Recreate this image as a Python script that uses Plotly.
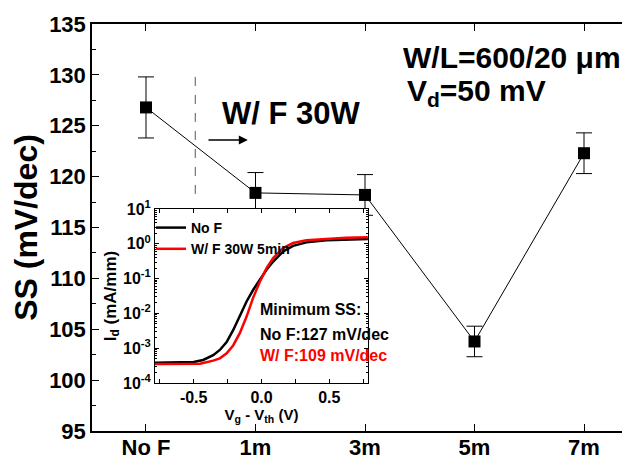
import plotly.graph_objects as go

# ---- main data ----
categories = ["No F", "1m", "3m", "5m", "7m"]
ss_values = [126.8, 118.4, 118.2, 103.8, 122.3]
ss_errors = [3.0, 2.0, 2.0, 1.5, 2.0]

# ---- inset data (Id-Vg) ----
vg_nof = [-0.785, -0.50, -0.43, -0.356, -0.307, -0.257, -0.209, -0.16, -0.11, -0.062,
          -0.012, 0.037, 0.086, 0.159, 0.233, 0.331, 0.478, 0.625, 0.784]
id_nof = [3.8e-4, 4.0e-4, 4.6e-4, 6.3e-4, 8.9e-4, 1.5e-3, 3.3e-3, 8.1e-3, 2.2e-2, 4.7e-2,
          9.1e-2, 0.18, 0.31, 0.60, 0.87, 1.10, 1.26, 1.32, 1.38]
vg_wf = [-0.785, -0.453, -0.356, -0.307, -0.257, -0.209, -0.16, -0.11, -0.062,
         -0.012, 0.037, 0.086, 0.159, 0.233, 0.331, 0.478, 0.625, 0.784]
id_wf = [3.5e-4, 3.6e-4, 4.4e-4, 5.1e-4, 7.1e-4, 1.2e-3, 2.7e-3, 8.1e-3, 2.8e-2,
         8.1e-2, 0.20, 0.39, 0.76, 1.05, 1.26, 1.38, 1.48, 1.55]

inset_xtickvals = [-0.75, -0.5, -0.25, 0, 0.25, 0.5, 0.75]
inset_xticktext = ["", "-0.5", "", "0.0", "", "0.5", ""]
inset_ytickvals = [1e-4, 1e-3, 1e-2, 1e-1, 1, 10]
inset_yticktext = ["10<sup>-4</sup>", "10<sup>-3</sup>", "10<sup>-2</sup>",
                   "10<sup>-1</sup>", "10<sup>0</sup>", "10<sup>1</sup>"]

FONT = "Liberation Sans"
OFF = 8  # page body margin
W, H = 630 - OFF, 459 - OFF
L, R, T, B = 92 - OFF, 0, 24 - OFF, 459 - 431
PW, PH = W - L - R, H - T - B


def px(xp):
    """reference page pixel x -> paper x"""
    return (xp - OFF - L) / PW


def py(yp):
    """reference page pixel y -> paper y"""
    return (H - B - (yp - OFF)) / PH


fig = go.Figure()

fig.add_trace(go.Scatter(
    x=list(range(len(categories))), y=ss_values,
    mode="lines+markers",
    line=dict(color="black", width=1),
    marker=dict(symbol="square", size=12, color="black"),
    error_y=dict(type="data", array=ss_errors, color="black", thickness=1, width=8),
    showlegend=False, xaxis="x", yaxis="y",
))

fig.add_trace(go.Scatter(
    x=vg_nof, y=id_nof, mode="lines", name="No F",
    line=dict(color="black", width=2.5), xaxis="x2", yaxis="y2",
))
fig.add_trace(go.Scatter(
    x=vg_wf, y=id_wf, mode="lines", name="W/ F 30W 5min",
    line=dict(color="#ff0000", width=2.5), xaxis="x2", yaxis="y2",
))

tickfont_main = dict(family=FONT, size=22, color="black", weight=700)

fig.update_layout(
    width=W, height=H,
    margin=dict(l=L, r=R, t=T, b=B, autoexpand=False),
    paper_bgcolor="white", plot_bgcolor="white",
    font=dict(family=FONT, color="black"),
    xaxis=dict(
        domain=[0, 1], range=[-0.493, 4.42], automargin=False,
        tickvals=list(range(len(categories))), ticktext=categories,
        ticks="inside", ticklen=7, tickwidth=1.2, tickcolor="black",
        showline=True, linecolor="black", linewidth=1.5, mirror="ticks",
        showgrid=False, zeroline=False, tickfont=tickfont_main,
        ticklabelstandoff=-4,
    ),
    yaxis=dict(
        domain=[0, 1], range=[95, 135], dtick=5, automargin=False,
        ticks="inside", ticklen=7, tickwidth=1.2, tickcolor="black",
        minor=dict(ticks="inside", ticklen=4, dtick=2.5, tickcolor="black", tickwidth=1),
        showline=True, linecolor="black", linewidth=1.5,
        showgrid=False, zeroline=False, tickfont=tickfont_main,
        title=dict(text="SS (mV/dec)", font=dict(family=FONT, size=32, weight=700), standoff=2),
    ),
    xaxis2=dict(
        domain=[px(155), px(368)], range=[-0.785, 0.785], anchor="y2", automargin=False,
        tickvals=inset_xtickvals, ticktext=inset_xticktext,
        ticks="inside", ticklen=4, tickcolor="black",
        showline=True, linecolor="black", linewidth=1, mirror="ticks",
        showgrid=False, zeroline=False,
        tickfont=dict(family=FONT, size=16, weight=700),
        title=dict(text="V<sub>g</sub> - V<sub>th</sub> (V)", font=dict(family=FONT, size=15, weight=700), standoff=4),
    ),
    yaxis2=dict(
        domain=[py(383), py(209)], type="log", range=[-4, 1], anchor="x2", automargin=False,
        tickvals=inset_ytickvals, ticktext=inset_yticktext,
        ticks="inside", ticklen=4, tickcolor="black",
        minor=dict(ticks="inside", ticklen=2, dtick="D1", tickcolor="black"),
        showline=True, linecolor="black", linewidth=1, mirror="ticks",
        showgrid=False, zeroline=False,
        tickfont=dict(family=FONT, size=16, weight=700),
        title=dict(text="I<sub>d</sub> (mA/mm)", font=dict(family=FONT, size=17, weight=700), standoff=2),
    ),
    showlegend=True,
    legend=dict(x=px(151), y=py(212), xanchor="left", yanchor="top",
                bgcolor="rgba(0,0,0,0)", font=dict(family=FONT, size=14, weight=700),
                itemwidth=30, tracegroupgap=0),
)

# dashed separator line
fig.add_shape(type="line", xref="x", yref="y", x0=0.45, x1=0.45, y0=129.8, y1=117.5,
              line=dict(color="#555555", width=1, dash="dash"))

# arrow
fig.add_annotation(x=0.93, y=123.6, ax=0.557, ay=123.6, xref="x", yref="y",
                   axref="x", ayref="y", text="", showarrow=True,
                   arrowhead=2, arrowsize=1.2, arrowwidth=1.5, arrowcolor="black")

annots = [
    dict(text="W/ F 30W", x=0.676, y=126.2, xref="x", yref="y", size=31, color="black"),
    dict(text="W/L=600/20 \u03bcm", x=2.326, y=131.7, xref="x", yref="y", size=30, color="black"),
    dict(text="V<sub>d</sub>=50 mV", x=2.365, y=128.3, xref="x", yref="y", size=30, color="black"),
    dict(text="Minimum SS:", x=px(258), y=py(310), xref="paper", yref="paper", size=16, color="black"),
    dict(text="No F:127 mV/dec", x=px(258), y=py(334), xref="paper", yref="paper", size=16, color="black"),
    dict(text="W/ F:109 mV/dec", x=px(258), y=py(355), xref="paper", yref="paper", size=16, color="#ff0000"),
]
for a in annots:
    fig.add_annotation(text=a["text"], x=a["x"], y=a["y"], xref=a["xref"], yref=a["yref"],
                       xanchor="left", yanchor="middle", showarrow=False,
                       font=dict(family=FONT, size=a["size"], color=a["color"], weight=700))

fig.write_html("out.html")
